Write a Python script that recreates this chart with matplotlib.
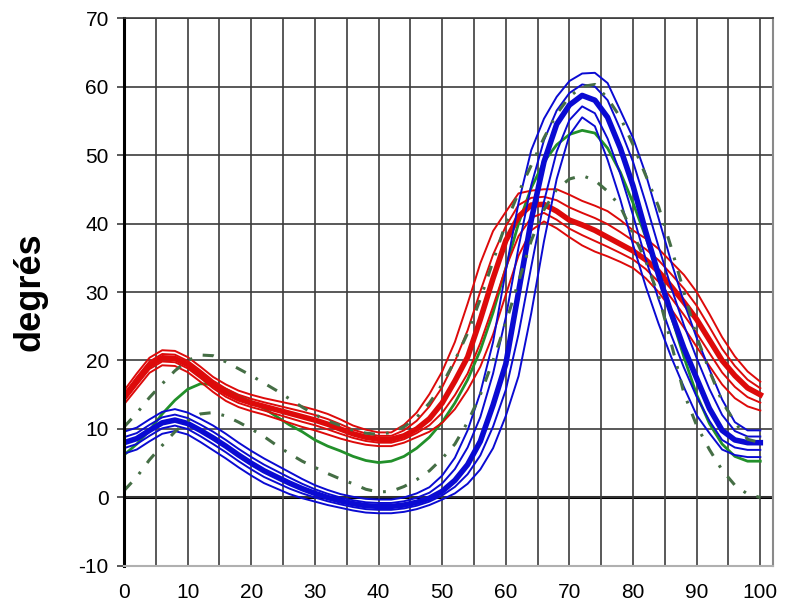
import numpy as np
import matplotlib
matplotlib.use("Agg")
import matplotlib.pyplot as plt

# ---------------- data (percent of gait cycle, every 2 %) ----------------
pct = list(range(0, 101, 2))

red_mean = [14.6, 17.0, 19.3, 20.4, 20.3, 19.4, 18.0, 16.5, 15.3, 14.4,
            13.8, 13.3, 12.8, 12.3, 11.8, 11.3, 10.7, 10.0, 9.3, 8.8,
            8.5, 8.5, 9.0, 10.0, 11.5, 13.8, 17.0, 20.5, 26.0, 32.0,
            37.5, 41.0, 42.7, 42.8, 41.8, 40.5, 39.8, 39.0, 38.0, 37.0,
            36.0, 34.7, 33.0, 30.8, 28.5, 26.0, 23.0, 20.0, 17.8, 16.0,
            15.0]
# spread above / below the mean (one SD)
red_sd_up = [0.5, 0.55, 0.55, 0.55, 0.55, 0.55, 0.55, 0.55, 0.6, 0.6,
             0.6, 0.6, 0.65, 0.7, 0.75, 0.75, 0.75, 0.7, 0.6, 0.55,
             0.5, 0.5, 0.8, 1.2, 1.8, 2.3, 2.85, 3.9, 4.1, 3.45,
             2.1, 1.7, 1.05, 1.1, 1.6, 1.85, 1.75, 1.8, 1.9, 1.75,
             1.5, 1.55, 1.65, 1.8, 2.0, 2.0, 1.9, 1.7, 1.4, 1.2,
             0.95]
red_sd_dn = [0.5, 0.55, 0.55, 0.55, 0.55, 0.55, 0.55, 0.55, 0.6, 0.6,
             0.6, 0.6, 0.65, 0.7, 0.75, 0.75, 0.75, 0.7, 0.6, 0.55,
             0.5, 0.5, 0.5, 0.6, 0.95, 1.45, 2.05, 2.4, 3.45, 4.1,
             3.95, 2.85, 1.85, 1.25, 1.25, 1.25, 1.5, 1.55, 1.4, 1.3,
             1.25, 1.35, 1.5, 1.65, 1.85, 2.0, 1.9, 1.75, 1.65, 1.35,
             1.15]

blue_mean = [8.0, 8.6, 9.8, 10.9, 11.3, 10.8, 9.8, 8.7, 7.5, 6.2,
             5.0, 3.9, 3.0, 2.1, 1.3, 0.6, 0.0, -0.5, -0.9, -1.2,
             -1.3, -1.3, -1.1, -0.7, -0.1, 0.9, 2.5, 4.8, 8.2, 13.5,
             19.5, 30.0, 40.5, 49.0, 54.5, 57.3, 58.7, 58.0, 55.5, 51.0,
             45.5, 38.8, 32.5, 26.9, 21.8, 17.4, 13.0, 9.8, 8.4, 8.0,
             8.0]
blue_sd_up = [0.8, 0.8, 0.8, 0.8, 0.8, 0.8, 0.85, 0.9, 0.9, 0.9,
              0.9, 0.9, 0.85, 0.8, 0.7, 0.6, 0.55, 0.5, 0.5, 0.5,
              0.5, 0.5, 0.55, 0.65, 0.8, 1.15, 1.65, 2.5, 3.55, 4.6,
              6.8, 6.5, 5.1, 3.15, 2.0, 1.75, 1.6, 2.0, 2.5, 2.75,
              3.5, 4.2, 4.15, 3.75, 3.35, 2.95, 2.85, 2.25, 1.3, 0.9,
              0.9]
blue_sd_dn = [0.8, 0.8, 0.8, 0.8, 0.8, 0.8, 0.85, 0.9, 0.9, 0.9,
              0.9, 0.9, 0.85, 0.8, 0.7, 0.6, 0.55, 0.5, 0.5, 0.5,
              0.5, 0.5, 0.5, 0.5, 0.5, 0.6, 0.95, 1.4, 2.05, 3.15,
              3.8, 6.15, 6.8, 5.8, 4.0, 2.2, 1.6, 1.9, 3.1, 3.75,
              4.3, 4.0, 3.55, 3.2, 2.85, 2.7, 1.8, 1.4, 1.1, 1.05,
              1.05]

norm_mean = [6.2, 7.8, 9.8, 12.2, 14.2, 15.8, 16.6, 16.5, 15.8, 14.8,
             14.0, 13.0, 11.8, 10.6, 9.6, 8.4, 7.5, 6.8, 6.0, 5.4,
             5.1, 5.3, 6.0, 7.2, 8.8, 11.0, 13.8, 17.2, 21.5, 27.0,
             33.5, 40.0, 45.2, 49.0, 51.5, 53.0, 53.6, 53.2, 51.0, 47.5,
             43.0, 38.0, 32.5, 26.5, 20.5, 15.0, 10.8, 7.8, 6.0, 5.3,
             5.3]
norm_hi = [10.3, 12.3, 14.6, 16.6, 18.5, 20.0, 20.8, 20.7, 19.8, 18.8,
           17.8, 16.7, 15.6, 14.4, 13.2, 12.1, 11.2, 10.5, 9.8, 9.4,
           9.2, 9.5, 10.3, 11.7, 13.8, 16.5, 20.0, 24.0, 29.0, 34.5,
           40.0, 44.5, 48.5, 52.5, 56.0, 58.5, 60.0, 60.3, 58.3, 55.5,
           51.5, 47.0, 42.5, 36.5, 30.0, 23.5, 18.5, 14.0, 11.0, 8.5,
           8.0]
norm_lo = [1.0, 3.0, 5.5, 7.6, 9.6, 11.2, 12.2, 12.4, 11.9, 11.0,
           10.0, 8.9, 7.6, 6.4, 5.3, 4.4, 3.5, 2.7, 2.0, 1.2,
           0.8, 0.9, 1.6, 2.6, 3.9, 5.7, 7.8, 11.0, 15.0, 20.0,
           25.5, 31.5, 37.5, 42.0, 45.0, 46.5, 47.0, 46.3, 44.7, 42.5,
           38.5, 34.5, 29.5, 22.5, 15.2, 10.5, 7.0, 4.0, 1.8, 0.5,
           0.0]

x_labels = [str(v) for v in range(0, 101, 10)]
y_labels = [str(v) for v in range(-10, 71, 10)]
y_label_text = "degrés"

# ---------------- styling ----------------
plt.rcParams["font.family"] = ["Liberation Sans", "DejaVu Sans"]
plt.rcParams["lines.scale_dashes"] = False

RED = "#dd0a0a"
BLUE = "#0a0ad2"
GREEN = "#22902a"
DASH_GREEN = "#456e45"
GRID = "#3c3c3c"

fig = plt.figure(figsize=(7.88, 6.13), dpi=100)
ax = fig.add_axes([0.1574, 0.0767, 0.8236, 0.8939])

x = np.array(pct, dtype=float)

# grid
ax.set_xlim(0, 102)
ax.set_ylim(-10, 70)
ax.set_xticks(range(0, 101, 10))
ax.set_xticks(range(5, 101, 10), minor=True)
ax.set_yticks(range(-10, 71, 10))
ax.set_xticklabels(x_labels)
ax.set_yticklabels(y_labels)
ax.grid(True, which="both", axis="x", color=GRID, lw=1.2, zorder=0)
ax.grid(True, which="major", axis="y", color=GRID, lw=1.2, zorder=0)
ax.axhline(0, color="black", lw=2.2, zorder=1)

# normal mean
ax.plot(x, norm_mean, color=GREEN, lw=2.0, zorder=3)


def draw_group(mean, up, dn, color, z):
    m = np.array(mean)
    u = np.array(up)
    d = np.array(dn)
    for line in (m + 2 * u, m + u, m - d, m - 2 * d):
        ax.plot(x, line, color=color, lw=1.4, zorder=z,
                solid_joinstyle="round")
    ax.plot(x, m, color=color, lw=4.0, zorder=z, solid_joinstyle="round")


draw_group(red_mean, red_sd_up, red_sd_dn, RED, 4)
draw_group(blue_mean, blue_sd_up, blue_sd_dn, BLUE, 5)

# normal bounds (dash-dot)
for band in (norm_hi, norm_lo):
    ax.plot(x, band, color=DASH_GREEN, lw=2.2, zorder=6,
            dashes=[8, 8, 2, 8])

# axes frame
for side in ("top", "right", "bottom", "left"):
    ax.spines[side].set_zorder(7)
ax.spines["left"].set_color("black")
ax.spines["left"].set_linewidth(2.2)
ax.spines["top"].set_color(GRID)
ax.spines["top"].set_linewidth(1.2)
ax.spines["right"].set_color("#8a8a8a")
ax.spines["right"].set_linewidth(1.5)
ax.spines["bottom"].set_color("#b0b0b0")
ax.spines["bottom"].set_linewidth(1.5)

ax.tick_params(axis="y", which="major", length=5, width=1.2, color=GRID,
               labelsize=15, pad=6)
ax.tick_params(axis="x", which="both", length=0, labelsize=15, pad=12)

ax.set_ylabel(y_label_text, fontsize=26, fontweight="bold", labelpad=22)

fig.savefig("out.png", dpi=100)
